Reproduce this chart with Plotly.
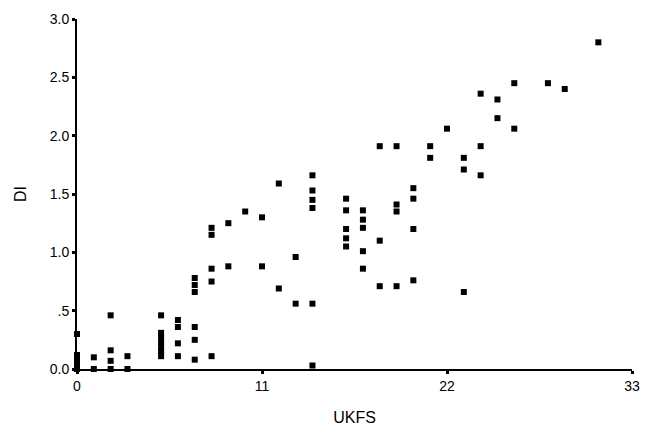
import plotly.graph_objects as go

ukfs = [0, 0, 0, 0, 0,
        1, 1,
        2, 2, 2, 2,
        3, 3,
        5, 5, 5, 5, 5, 5, 5,
        6, 6, 6, 6,
        7, 7, 7, 7, 7, 7,
        8, 8, 8, 8, 8,
        9, 9,
        10,
        11, 11,
        12, 12,
        13, 13,
        14, 14, 14, 14, 14, 14,
        16, 16, 16, 16, 16,
        17, 17, 17, 17, 17,
        18, 18, 18,
        19, 19, 19, 19,
        20, 20, 20, 20,
        21, 21,
        22,
        23, 23, 23,
        24, 24, 24,
        25, 25,
        26, 26,
        28,
        29,
        31]
di = [0.30, 0.12, 0.08, 0.04, 0.0,
      0.10, 0.0,
      0.46, 0.16, 0.07, 0.0,
      0.11, 0.0,
      0.46, 0.31, 0.27, 0.23, 0.19, 0.15, 0.11,
      0.42, 0.36, 0.22, 0.11,
      0.78, 0.72, 0.66, 0.36, 0.25, 0.08,
      1.21, 1.15, 0.86, 0.75, 0.11,
      1.25, 0.88,
      1.35,
      1.30, 0.88,
      1.59, 0.69,
      0.96, 0.56,
      1.66, 1.53, 1.45, 1.38, 0.56, 0.03,
      1.46, 1.36, 1.20, 1.12, 1.05,
      1.36, 1.28, 1.21, 1.01, 0.86,
      1.91, 1.10, 0.71,
      1.91, 1.41, 1.35, 0.71,
      1.55, 1.46, 1.20, 0.76,
      1.91, 1.81,
      2.06,
      1.81, 1.71, 0.66,
      2.36, 1.91, 1.66,
      2.31, 2.15,
      2.45, 2.06,
      2.45,
      2.40,
      2.80]

x_ticks = [0, 11, 22, 33]
y_ticks = [0, 0.5, 1.0, 1.5, 2.0, 2.5, 3.0]
y_tick_text = ["0.0", ".5", "1.0", "1.5", "2.0", "2.5", "3.0"]

fig = go.Figure()
fig.add_trace(go.Scatter(
    x=ukfs, y=di, mode="markers",
    marker=dict(symbol="square", size=6, color="black"),
    cliponaxis=False, showlegend=False,
))

font_family = "Liberation Sans, Arial, sans-serif"
fig.update_layout(
    width=651, height=442,
    margin=dict(l=77, r=11, t=16, b=73),
    paper_bgcolor="white", plot_bgcolor="white",
    font=dict(family=font_family, color="black", size=14),
    xaxis=dict(
        range=[0, 33], tickvals=x_ticks, ticktext=[str(v) for v in x_ticks],
        showline=True, linecolor="black", linewidth=2,
        ticks="outside", ticklen=3, tickwidth=3, tickcolor="black",
        showgrid=False, zeroline=False,
        tickfont=dict(size=14),
        title=dict(text="UKFS", font=dict(size=16), standoff=19),
    ),
    yaxis=dict(
        range=[0, 3.0], tickvals=y_ticks, ticktext=y_tick_text,
        showline=True, linecolor="black", linewidth=2,
        ticks="outside", ticklen=3, tickwidth=3, tickcolor="black",
        showgrid=False, zeroline=False,
        tickfont=dict(size=14),
        title=dict(text="DI", font=dict(size=16), standoff=19),
    ),
)

fig.write_html("out.html", config={"displayModeBar": False},
               post_script="document.body.style.margin='0px';")
